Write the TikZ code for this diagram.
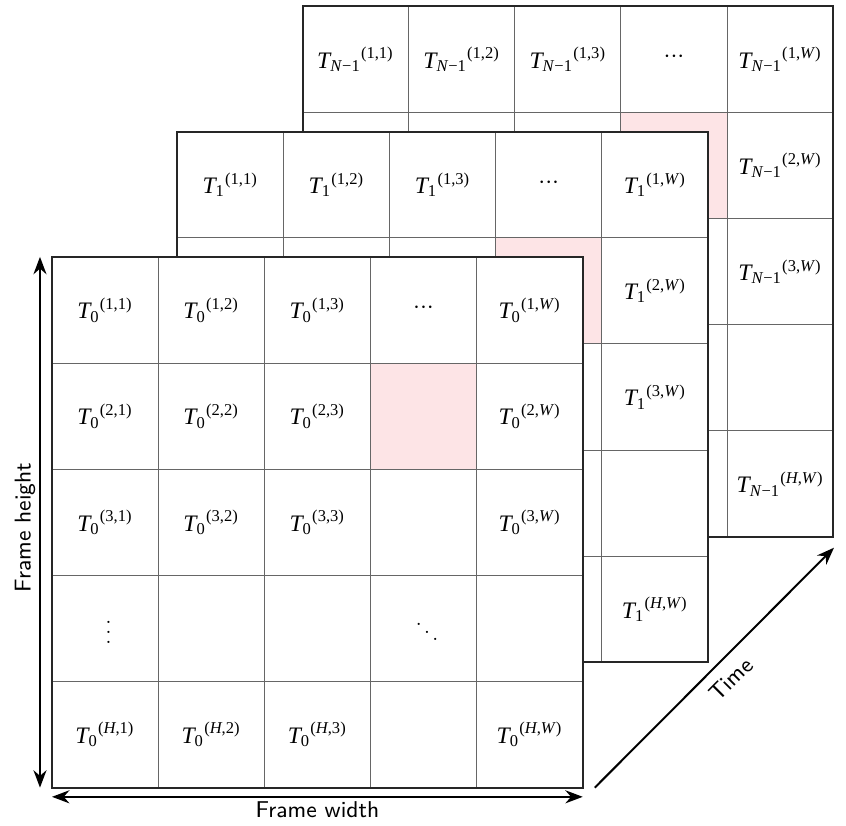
\documentclass[tikz,border=0pt]{standalone}
\usepackage{amsmath}
\usepackage{fontspec}
\newfontfamily\tms{Liberation Serif}
\usetikzlibrary{arrows.meta}
\definecolor{cellpink}{RGB}{253,228,230}
\newcommand{\tlbl}[2]{$\text{\tms\itshape T}_{\text{\tms #1}}{}^{\text{\tms (#2)}}$}
\newcommand{\rowdots}{${\cdot}{\cdot}{\cdot}$}
\tikzset{
  gridline/.style={draw=black!60, line width=0.4pt},
  frameline/.style={draw=black!85, line width=0.8pt},
  axis/.style={line width=0.8pt, {Stealth[length=7pt]}-{Stealth[length=7pt]}},
  timeaxis/.style={line width=0.8pt, -{Stealth[length=7pt]}},
  axislbl/.style={font=\sffamily\fontsize{9.2}{11}\selectfont, inner sep=1.5pt},
  dotlbl/.style={font=\fontsize{8}{9}\selectfont},
}
\begin{document}
\begin{tikzpicture}[font=\fontsize{9.5}{11}\selectfont]
  \useasboundingbox (-0.735,-0.537) rectangle (11.22,11.13);

  % frames, back to front
  \foreach \k/\s in {2/{\textit{N}−1},1/1,0/0} {
    \begin{scope}[shift={(1.77*\k,1.77*\k)}]
      \fill[white] (0,0) rectangle (7.5,7.5);
      \fill[cellpink] (4.5,4.5) rectangle (6,6);
      \draw[gridline] (0,0) grid[step=1.5] (7.5,7.5);
      \draw[frameline] (0,0) rectangle (7.5,7.5);
      % top row
      \foreach \c/\j in {1/1,2/2,3/3,5/{\textit{W}}}
        \node (t\k-1-\c) at (1.5*\c-0.75,6.75) {\tlbl{\s}{1,\j}};
      \node[font=\fontsize{10}{11}\selectfont] (t\k-1-4) at (5.25,6.78) {\rowdots};
      % right column
      \foreach \r/\i in {2/2,3/3,5/{\textit{H}}}
        \node (t\k-\r-5) at (6.75,8.25-1.5*\r) {\tlbl{\s}{\i,\textit{W}}};
    \end{scope}
  }

  % inner cells of the front frame
  \foreach \r/\i in {2/2,3/3,5/{\textit{H}}}
    \foreach \c in {1,2,3}
      \node (t0-\r-\c) at (1.5*\c-0.75,8.25-1.5*\r) {\tlbl{0}{\i,\c}};
  \node[dotlbl] (t0-4-1) at (0.8,2.3) {$\vdots$};
  \node[dotlbl] (t0-4-4) at (5.3,2.3) {$\ddots$};

  % axes
  \coordinate (h0) at (-0.17,0);
  \coordinate (h1) at (-0.17,7.5);
  \coordinate (w0) at (0,-0.13);
  \coordinate (w1) at (7.5,-0.13);
  \coordinate (tm0) at (7.67,0);
  \coordinate (tm1) at (11.05,3.39);
  \draw[axis] (h0) -- node[axislbl, sloped, above=0pt, pos=0.49] (hl) {Frame height} (h1);
  \draw[axis] (w0) -- node[axislbl, below=0pt] (wl) {Frame width} (w1);
  \draw[timeaxis] (tm0) -- node[axislbl, sloped, below=3pt, pos=0.51] (tl) {Time} (tm1);
\end{tikzpicture}
\end{document}
